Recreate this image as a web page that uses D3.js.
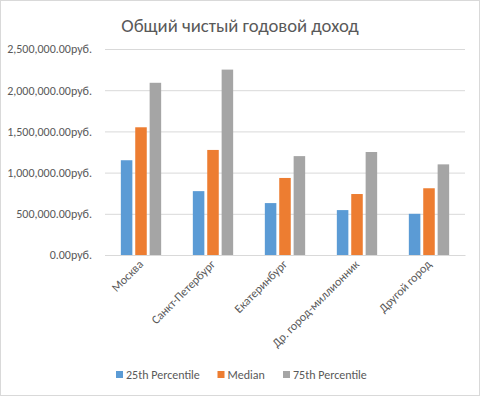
<!DOCTYPE html>
<html><head><meta charset="utf-8">
<script src="https://cdn.jsdelivr.net/npm/d3@7"></script>
<style>body{margin:0;background:#fff}svg{display:block}text{font-family:Carlito,Lato,"Liberation Sans",sans-serif;fill:#595959}</style>
</head><body><svg id="c" width="480" height="396"></svg>
<script>
const categories = ["Москва","Санкт-Петербург","Екатеринбург","Др. город-миллионник","Другой город"];
const seriesNames = ["25th Percentile","Median","75th Percentile"];
const p25 = [1150000, 775000, 630000, 545000, 500000];
const median = [1550000, 1275000, 935000, 740000, 810000];
const p75 = [2090000, 2250000, 1200000, 1250000, 1100000];
const yTicks = [0, 500000, 1000000, 1500000, 2000000, 2500000];
const colors = ["#5B9BD5","#ED7D31","#A5A5A5"];
const title = "Общий чистый годовой доход";
const FONT = 'Carlito,Lato,"Liberation Sans",sans-serif';

const svg = d3.select("#c");
svg.append("rect").attr("x",0.5).attr("y",0.5).attr("width",479).attr("height",395).attr("fill","#fff").attr("stroke","#D9D9D9");
const m = {l:105, r:465, t:49, b:255};
const x = d3.scaleBand().domain(categories).range([m.l, m.r]).paddingInner(0).paddingOuter(0);
const y = d3.scaleLinear().domain([0,2500000]).range([m.b, m.t]);
const xs = d3.scaleBand().domain(seriesNames).range([0, x.bandwidth()]).paddingInner(0.2).paddingOuter(1.1);

svg.append("text").attr("x",240).attr("y",32).attr("text-anchor","middle").style("font-size","18.67px").text(title);

const fmt = v => d3.format(",.2f")(v) + "руб.";
const ya = svg.append("g").attr("transform",`translate(${m.l},0)`)
  .call(d3.axisLeft(y).tickValues(yTicks).tickFormat(fmt).tickSize(-(m.r-m.l)).tickPadding(13));
ya.select(".domain").remove();
ya.selectAll("line").attr("stroke","#D9D9D9");
ya.selectAll("text").style("font-size","12px").attr("fill","#595959").style("font-family",FONT);

const series = [p25, median, p75];
series.forEach((vals, si) => {
  svg.append("g").selectAll("rect").data(categories).join("rect")
    .attr("x", (c) => x(c) + xs(seriesNames[si]))
    .attr("width", xs.bandwidth())
    .attr("y", (c,i) => y(vals[i]))
    .attr("height", (c,i) => y(0) - y(vals[i]))
    .attr("fill", colors[si]);
});

const xa = svg.append("g").attr("transform",`translate(0,${m.b})`).call(d3.axisBottom(x).tickSize(0).tickPadding(0));
xa.select(".domain").attr("stroke","#D9D9D9");
xa.selectAll("text").style("font-size","12px").attr("fill","#595959").style("font-family",FONT)
  .attr("text-anchor","end").attr("dy",0).attr("transform","translate(3,10) rotate(-45)");

const lg = svg.append("g");
const lx = [116, 217.5, 283];
seriesNames.forEach((n,i)=>{
  lg.append("rect").attr("x",lx[i]).attr("y",371).attr("width",7).attr("height",7).attr("fill",colors[i]);
  lg.append("text").attr("x",lx[i]+10).attr("y",379).style("font-size","12px").text(n);
});
</script></body></html>
